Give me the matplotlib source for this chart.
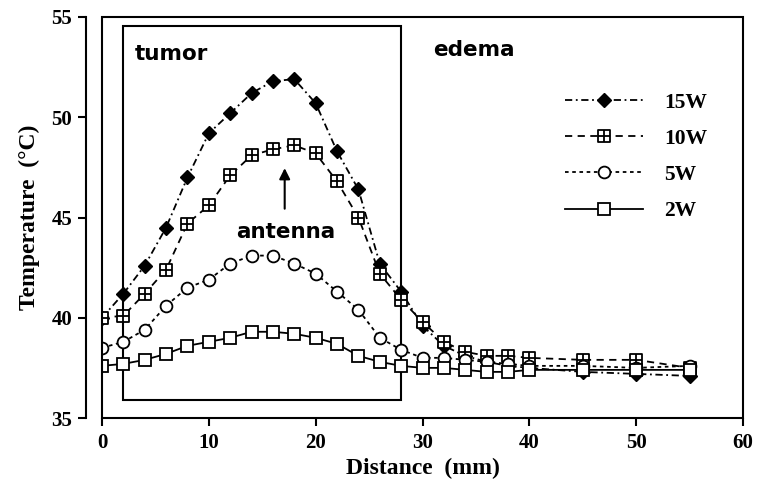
import matplotlib
matplotlib.use("Agg")
import matplotlib.pyplot as plt
from matplotlib.path import Path
from matplotlib.patches import Rectangle

distance = [0, 2, 4, 6, 8, 10, 12, 14, 16, 18, 20, 22, 24, 26, 28, 30, 32, 34, 36, 38, 40, 45, 50, 55]
t15 = [40.0, 41.2, 42.6, 44.5, 47.0, 49.2, 50.2, 51.2, 51.8, 51.9, 50.7, 48.3, 46.4, 42.7, 41.3, 39.6, 38.6, 38.1, 37.8, 37.6, 37.5, 37.3, 37.2, 37.1]
t10 = [40.0, 40.1, 41.2, 42.4, 44.7, 45.6, 47.1, 48.1, 48.4, 48.6, 48.2, 46.8, 45.0, 42.2, 40.9, 39.8, 38.8, 38.3, 38.1, 38.1, 38.0, 37.9, 37.9, 37.5]
t5 = [38.5, 38.8, 39.4, 40.6, 41.5, 41.9, 42.7, 43.1, 43.1, 42.7, 42.2, 41.3, 40.4, 39.0, 38.4, 38.0, 38.0, 37.9, 37.8, 37.7, 37.6, 37.6, 37.5, 37.6]
t2 = [37.6, 37.7, 37.9, 38.2, 38.6, 38.8, 39.0, 39.3, 39.3, 39.2, 39.0, 38.7, 38.1, 37.8, 37.6, 37.5, 37.5, 37.4, 37.3, 37.3, 37.4, 37.4, 37.4, 37.4]
labels = ["15W", "10W", "5W", "2W"]
xticks = [0, 10, 20, 30, 40, 50, 60]
yticks = [35, 40, 45, 50, 55]

serif = "Liberation Serif"
sans = "DejaVu Sans"

# square with a cross inside
sqcross = Path(
    [(-1, -1), (1, -1), (1, 1), (-1, 1), (-1, -1), (0, -1), (0, 1), (-1, 0), (1, 0)],
    [Path.MOVETO, Path.LINETO, Path.LINETO, Path.LINETO, Path.CLOSEPOLY,
     Path.MOVETO, Path.LINETO, Path.MOVETO, Path.LINETO])

fig = plt.figure(figsize=(7.58, 4.97), dpi=100)
ax = fig.add_axes([102 / 758, 1 - 418 / 497, (743 - 102) / 758, (418 - 17) / 497])

styles = [
    dict(ls=(0, (4, 2, 1, 2)), marker="D", ms=7, mfc="black", mec="black"),
    dict(ls=(0, (4, 3)), marker=sqcross, ms=9, mfc="white", mec="black", mew=1.3),
    dict(ls=(0, (2, 2)), marker="o", ms=8.5, mfc="white", mec="black", mew=1.3),
    dict(ls="-", marker="s", ms=8.5, mfc="white", mec="black", mew=1.3),
]
series = [t15, t10, t5, t2]
handles = []
for ys, st, lab in zip(series, styles, labels):
    h, = ax.plot(distance, ys, color="black", lw=1.3, label=lab, **st)
    handles.append(h)

ax.set_xlim(0, 60)
ax.set_ylim(35, 55)
ax.set_xticks(xticks)
ax.set_yticks(yticks)

for s in ["top", "right", "bottom"]:
    ax.spines[s].set_visible(False)
ax.spines["left"].set_position(("outward", 11.5))
ax.spines["left"].set_linewidth(1.5)
ax.add_patch(Rectangle((0, 0), 1, 1, transform=ax.transAxes, fill=False,
                       lw=1.5, ec="black", clip_on=False, zorder=5))

ax.tick_params(axis="both", direction="out", length=6, width=1.5)
ax.tick_params(axis="x", pad=5)
ax.tick_params(axis="y", pad=4)
for lbl in ax.get_xticklabels() + ax.get_yticklabels():
    lbl.set_fontfamily(serif)
    lbl.set_fontweight("bold")
    lbl.set_fontsize(15)

ax.set_xlabel("Distance  (mm)", fontfamily=serif, fontweight="bold", fontsize=17, labelpad=3)
ax.set_ylabel("Temperature  (°C)", fontfamily=serif, fontweight="bold", fontsize=17, labelpad=8)

# tumor region box
ax.add_patch(Rectangle((2, 35.9), 26, 54.55 - 35.9, fill=False, lw=1.5, ec="black", zorder=1))

ax.text(3.1, 53.15, "tumor", fontfamily=sans, fontweight="bold", fontsize=15.5, va="center", ha="left")
ax.text(31.0, 53.35, "edema", fontfamily=sans, fontweight="bold", fontsize=15.5, va="center", ha="left")
ax.text(12.6, 44.3, "antenna", fontfamily=sans, fontweight="bold", fontsize=15.5, va="center", ha="left")
ax.annotate("", xy=(17.1, 47.6), xytext=(17.1, 45.3),
            arrowprops=dict(arrowstyle="-|>", color="black", lw=1.5, mutation_scale=16))

leg = ax.legend(handles=handles, loc="upper right", bbox_to_anchor=(0.975, 0.86),
                frameon=False, handlelength=3.6, handletextpad=1.0, labelspacing=0.75,
                prop=dict(family=serif, weight="bold", size=15.5))

fig.savefig("out.png", dpi=100)
